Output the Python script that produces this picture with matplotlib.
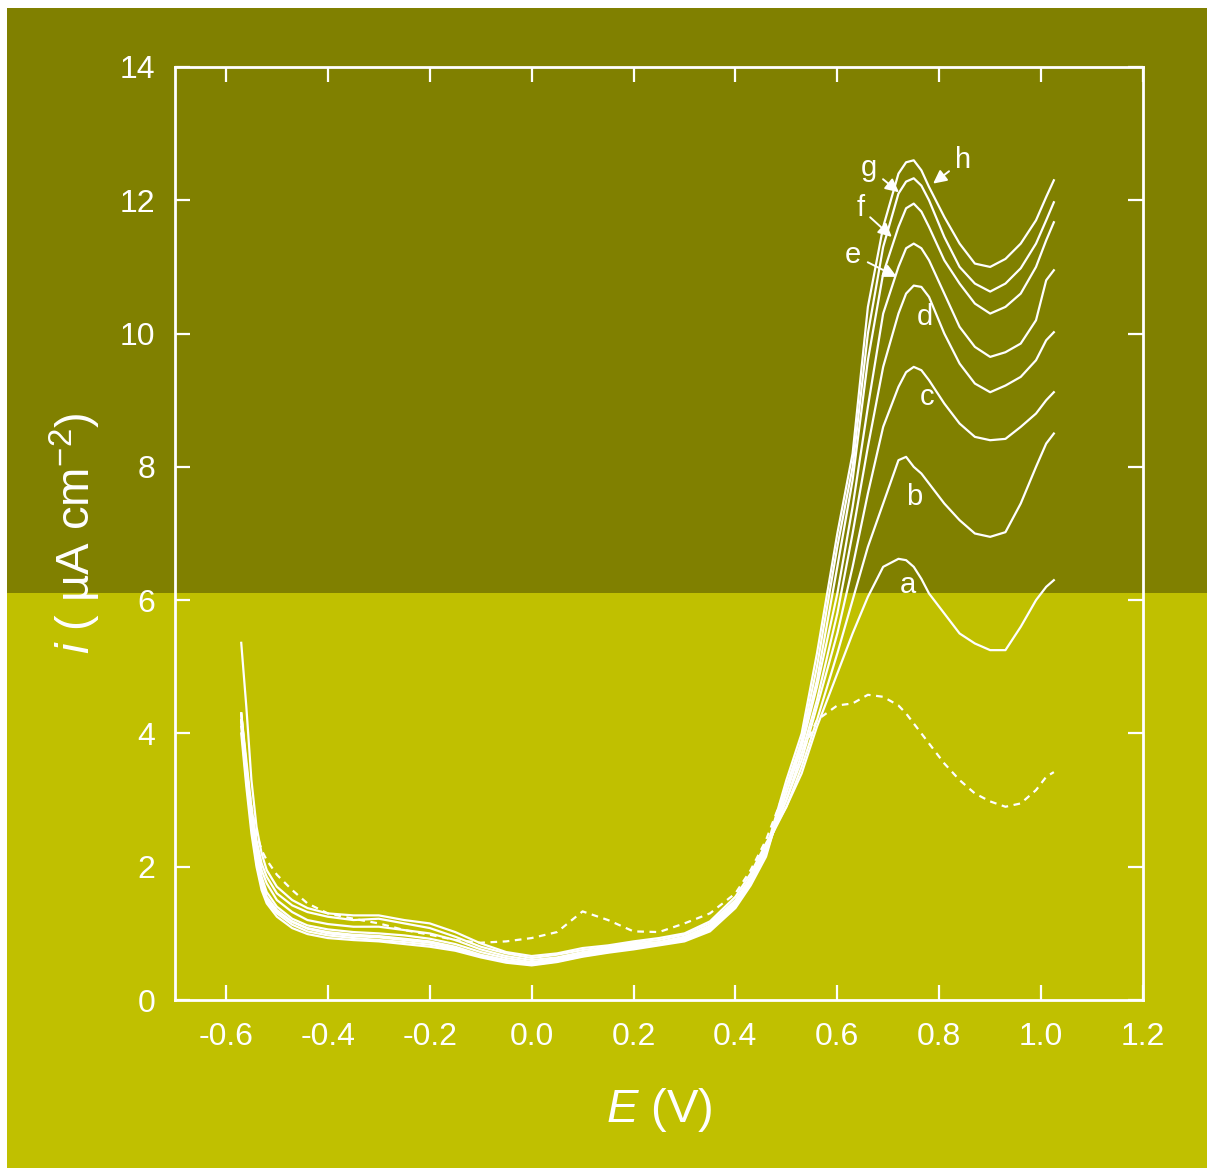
import matplotlib
matplotlib.use('Agg')
import matplotlib.pyplot as plt
from matplotlib.patches import Rectangle

plt.rcParams['font.family'] = ['Liberation Sans Narrow', 'Liberation Sans', 'DejaVu Sans']
plt.rcParams['axes.unicode_minus'] = False
plt.rcParams['mathtext.fontset'] = 'custom'
plt.rcParams['mathtext.rm'] = 'Liberation Sans'
plt.rcParams['mathtext.it'] = 'Liberation Sans:italic'

# potential (V)
E = [-0.57, -0.56, -0.55, -0.54, -0.53, -0.52, -0.50, -0.47, -0.44, -0.40,
     -0.35, -0.30, -0.25, -0.20, -0.15, -0.10, -0.05, 0.00, 0.05, 0.10,
     0.15, 0.20, 0.25, 0.30, 0.35, 0.40, 0.43, 0.46,
     0.50, 0.53, 0.56, 0.60, 0.63, 0.66, 0.69, 0.72, 0.735, 0.75, 0.765, 0.78,
     0.81, 0.84, 0.87, 0.90, 0.93, 0.96, 0.99, 1.01, 1.025]

# current density (uA cm-2), curves a..h
i_a = [5.36, 4.4, 3.3, 2.6, 2.2, 1.95, 1.7, 1.5, 1.38, 1.3,
       1.27, 1.27, 1.2, 1.15, 1.02, 0.85, 0.72, 0.66, 0.7, 0.78,
       0.82, 0.88, 0.93, 1.0, 1.18, 1.55, 1.9, 2.35,
       2.9, 3.4, 4.1, 4.9, 5.5, 6.05, 6.5, 6.62, 6.6, 6.5, 6.32, 6.1,
       5.8, 5.5, 5.35, 5.25, 5.25, 5.6, 6.0, 6.2, 6.3]
i_b = [4.3, 3.6, 2.9, 2.4, 2.05, 1.85, 1.6, 1.42, 1.32, 1.25,
       1.2, 1.22, 1.15, 1.08, 0.95, 0.8, 0.7, 0.63, 0.68, 0.75,
       0.8, 0.86, 0.9, 0.98, 1.15, 1.5, 1.85, 2.3,
       2.9, 3.5, 4.2, 5.2, 6.0, 6.8, 7.45, 8.1, 8.15, 8.0, 7.9, 7.75,
       7.45, 7.2, 7.0, 6.95, 7.02, 7.45, 8.0, 8.35, 8.5]
i_c = [4.3, 3.5, 2.8, 2.3, 1.95, 1.75, 1.5, 1.32, 1.2, 1.14,
       1.1, 1.1, 1.05, 1.0, 0.9, 0.76, 0.66, 0.6, 0.64, 0.72,
       0.78, 0.84, 0.87, 0.95, 1.12, 1.48, 1.82, 2.28,
       3.0, 3.6, 4.4, 5.5, 6.5, 7.6, 8.6, 9.2, 9.42, 9.5, 9.45, 9.3,
       8.95, 8.65, 8.45, 8.4, 8.42, 8.6, 8.8, 9.0, 9.12]
i_d = [4.2, 3.4, 2.7, 2.2, 1.85, 1.62, 1.4, 1.22, 1.12, 1.06,
       1.02, 1.0, 0.97, 0.92, 0.84, 0.72, 0.63, 0.57, 0.62, 0.7,
       0.76, 0.82, 0.86, 0.93, 1.1, 1.45, 1.8, 2.25,
       3.0, 3.7, 4.5, 5.8, 7.0, 8.3, 9.5, 10.3, 10.6, 10.72, 10.7, 10.55,
       10.0, 9.55, 9.25, 9.12, 9.22, 9.35, 9.6, 9.9, 10.02]
i_e = [4.3, 3.5, 2.7, 2.15, 1.8, 1.55, 1.35, 1.18, 1.08, 1.02,
       0.98, 0.96, 0.92, 0.88, 0.8, 0.68, 0.6, 0.55, 0.6, 0.68,
       0.74, 0.8, 0.85, 0.92, 1.08, 1.42, 1.78, 2.2,
       3.1, 3.8, 4.7, 6.1, 7.4, 8.9, 10.3, 11.0, 11.28, 11.35, 11.28, 11.1,
       10.6, 10.1, 9.8, 9.65, 9.72, 9.85, 10.2, 10.8, 10.95]
i_f = [4.1, 3.3, 2.6, 2.05, 1.7, 1.48, 1.3, 1.13, 1.03, 0.97,
       0.93, 0.9, 0.87, 0.83, 0.76, 0.66, 0.58, 0.53, 0.58, 0.66,
       0.72, 0.78, 0.83, 0.9, 1.05, 1.4, 1.75, 2.2,
       3.2, 3.85, 4.8, 6.5, 7.8, 9.6, 10.9, 11.6, 11.88, 11.95, 11.83, 11.6,
       11.1, 10.75, 10.45, 10.3, 10.4, 10.6, 11.0, 11.4, 11.67]
i_g = [4.0, 3.2, 2.5, 2.0, 1.65, 1.45, 1.25, 1.08, 0.99, 0.93,
       0.9, 0.88, 0.84, 0.8, 0.74, 0.64, 0.56, 0.52, 0.57, 0.65,
       0.71, 0.76, 0.82, 0.88, 1.03, 1.38, 1.72, 2.15,
       3.2, 3.9, 5.0, 6.8, 8.0, 10.0, 11.3, 12.1, 12.28, 12.33, 12.22, 12.0,
       11.45, 11.0, 10.75, 10.63, 10.75, 10.98, 11.35, 11.7, 11.97]
i_h = [4.2, 3.4, 2.65, 2.1, 1.75, 1.52, 1.33, 1.17, 1.07, 1.0,
       0.96, 0.94, 0.9, 0.86, 0.78, 0.67, 0.59, 0.54, 0.59, 0.67,
       0.73, 0.79, 0.84, 0.91, 1.07, 1.45, 1.8, 2.25,
       3.3, 4.0, 5.2, 7.0, 8.2, 10.4, 11.6, 12.4, 12.57, 12.6, 12.45, 12.2,
       11.75, 11.35, 11.05, 11.0, 11.12, 11.35, 11.7, 12.05, 12.3]
# dashed reference curve
i_ref = [4.2, 3.5, 2.9, 2.5, 2.25, 2.1, 1.88, 1.65, 1.45, 1.3,
         1.22, 1.15, 1.05, 0.98, 0.9, 0.86, 0.88, 0.93, 1.02, 1.33,
         1.2, 1.03, 1.02, 1.15, 1.3, 1.6, 1.95, 2.4,
         3.2, 3.7, 4.2, 4.42, 4.45, 4.58, 4.55, 4.42, 4.3, 4.15, 4.0, 3.85,
         3.55, 3.3, 3.1, 2.98, 2.9, 2.95, 3.15, 3.35, 3.42]

curves = [i_a, i_b, i_c, i_d, i_e, i_f, i_g, i_h]

# curve letters: (label, text x, text y, arrow tip x, arrow tip y)
labels = [('a', 0.739, 6.23, None, None),
          ('b', 0.750, 7.55, None, None),
          ('c', 0.776, 9.05, None, None),
          ('d', 0.772, 10.25, None, None),
          ('e', 0.631, 11.18, 0.717, 10.85),
          ('f', 0.645, 11.88, 0.707, 11.45),
          ('g', 0.662, 12.49, 0.721, 12.12),
          ('h', 0.847, 12.6, 0.788, 12.25)]

fig = plt.figure(figsize=(12.09, 11.71), dpi=100)
fig.patch.set_facecolor('white')
fig.patches.append(Rectangle((7 / 1209, 0.4936), 1200 / 1209, 0.4996, transform=fig.transFigure,
                             facecolor='#808000', edgecolor='none', zorder=-5))
fig.patches.append(Rectangle((7 / 1209, 3 / 1171), 1200 / 1209, 0.4936 - 3 / 1171, transform=fig.transFigure,
                             facecolor='#c0c000', edgecolor='none', zorder=-5))

ax = fig.add_axes([175 / 1209, 0.146, 968 / 1209, 0.7968])
ax.set_facecolor('none')

for c in curves:
    ax.plot(E, c, color='white', lw=1.6)
ax.plot(E, i_ref, color='white', lw=1.6, linestyle=(0, (3, 2.5)))

for lab, tx, ty, ax_, ay_ in labels:
    if ax_ is None:
        ax.text(tx, ty, lab, color='white', fontsize=21, ha='center', va='center')
    else:
        ax.annotate(lab, xy=(ax_, ay_), xytext=(tx, ty), color='white', fontsize=21,
                    ha='center', va='center',
                    arrowprops=dict(arrowstyle='-|>', color='white', lw=1.4,
                                    mutation_scale=20, shrinkA=3, shrinkB=0))

ax.set_xlim(-0.7, 1.2)
ax.set_ylim(0, 14)
ax.set_xticks([-0.6, -0.4, -0.2, 0.0, 0.2, 0.4, 0.6, 0.8, 1.0, 1.2])
ax.set_xticklabels(['-0.6', '-0.4', '-0.2', '0.0', '0.2', '0.4', '0.6', '0.8', '1.0', '1.2'])
ax.set_yticks([0, 2, 4, 6, 8, 10, 12, 14])

for s in ax.spines.values():
    s.set_color('white')
    s.set_linewidth(2)
ax.tick_params(direction='in', length=11, width=1.6, colors='white', labelsize=23,
               top=True, right=True)
ax.tick_params(axis='x', pad=16)
ax.tick_params(axis='y', pad=14)

ax.set_xlabel(r'$E$ (V)', color='white', fontsize=34, labelpad=24)
ax.set_ylabel(r'$i$ ( µA cm$^{-2}$)', color='white', fontsize=34, labelpad=12)

fig.savefig('out.png', dpi=100, facecolor=fig.get_facecolor())
